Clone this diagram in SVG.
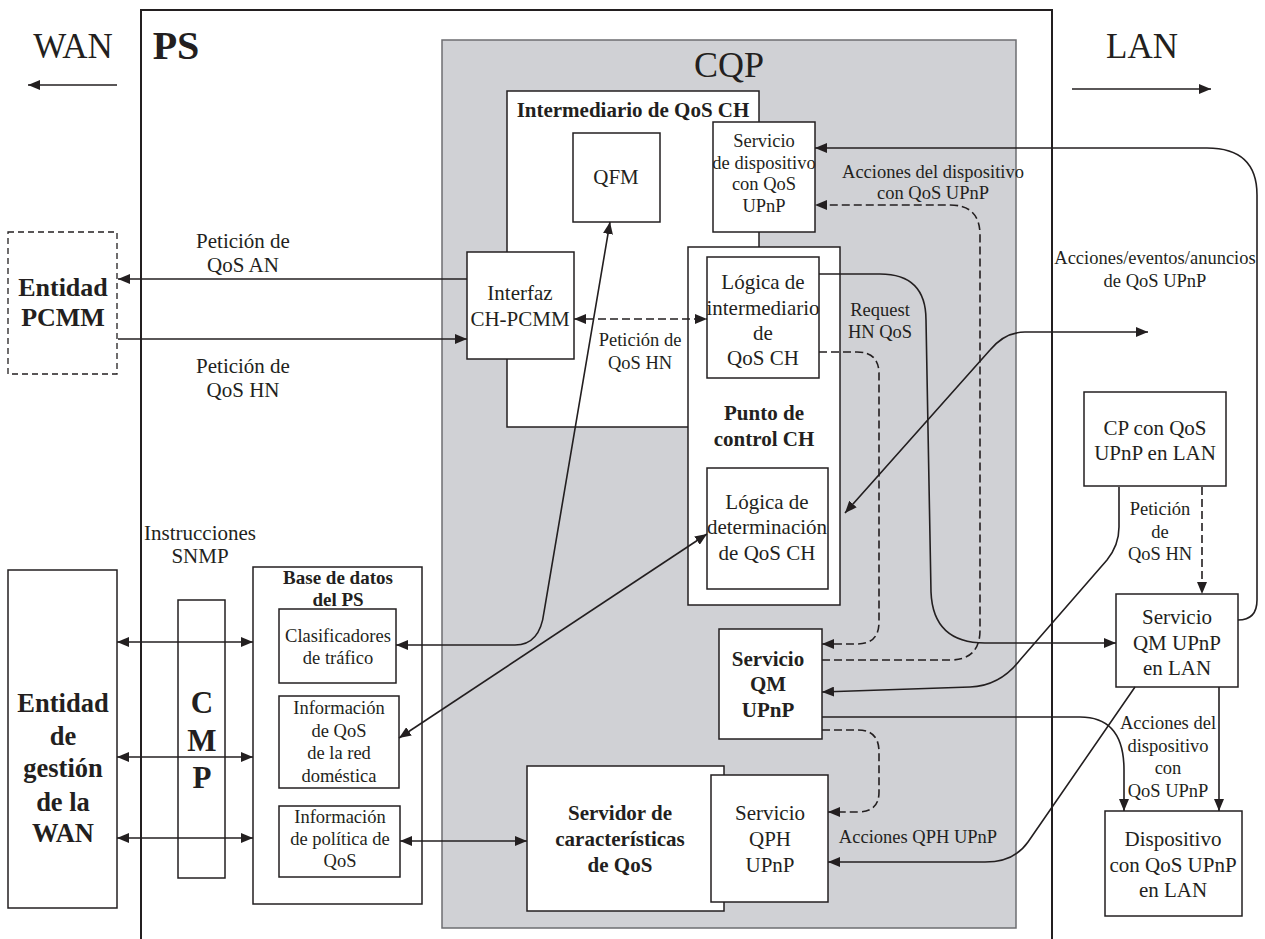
<svg xmlns="http://www.w3.org/2000/svg" width="1265" height="939" viewBox="0 0 1265 939">
  <style>
    .box { fill: #ffffff; stroke: #231f20; stroke-width: 1.5; }
    .t { font-family: "Liberation Serif", "Times New Roman", serif; fill: #231f20; text-anchor: middle; }
    .f21 { font-size: 21px; }
    .f18 { font-size: 18.5px; }
    .b { font-weight: bold; }
    .ln { fill: none; stroke: #231f20; stroke-width: 1.6; }
    .dash { stroke-dasharray: 8 4; }
    .end { marker-end: url(#ah); }
    .both { marker-start: url(#ah); marker-end: url(#ah); }
  </style>
  <defs>
    <marker id="ah" viewBox="0 0 12 10" refX="12" refY="5" markerWidth="12" markerHeight="10" markerUnits="userSpaceOnUse" orient="auto-start-reverse">
      <path d="M0,0 L12,5 L0,10 z" fill="#231f20"/>
    </marker>
  </defs>

  <rect width="1265" height="939" fill="#ffffff"/>

  <!-- PS frame (open at the bottom) -->
  <g id="ps">
    <path d="M141 939 L141 10 L1052 10 L1052 939" fill="none" stroke="#231f20" stroke-width="2"/>
    <text class="t b" x="176" y="59" font-size="40">PS</text>
  </g>

  <!-- WAN / LAN direction labels -->
  <g id="wan-label">
    <text class="t" x="73" y="58" font-size="35">WAN</text>
  </g>
  <g id="lan-label">
    <text class="t" x="1142" y="58" font-size="35">LAN</text>
  </g>

  <!-- CQP area -->
  <g id="cqp">
    <rect x="442" y="40" width="574" height="888" fill="#d0d1d5" stroke="#6d6e71" stroke-width="1.5"/>
    <text class="t" x="729" y="77" font-size="36">CQP</text>
  </g>

  <!-- Entidad PCMM -->
  <g id="pcmm">
    <rect x="8" y="232" width="109" height="142" fill="#ffffff" stroke="#231f20" stroke-width="1.3" stroke-dasharray="6 4"/>
    <text class="t b" x="63" y="296" font-size="26">Entidad</text>
    <text class="t b" x="63" y="326" font-size="26">PCMM</text>
  </g>

  <!-- Intermediario de QoS CH -->
  <g id="intermediario">
    <rect class="box" x="507" y="91" width="252" height="336"/>
    <text class="t f21 b" x="633" y="117">Intermediario de QoS CH</text>
  </g>

  <g id="qfm">
    <rect class="box" x="573" y="133" width="87" height="89"/>
    <text class="t f21" x="616" y="184">QFM</text>
  </g>

  <g id="servicio-dispositivo">
    <rect class="box" x="713" y="122" width="102" height="110"/>
    <text class="t f18" x="764" y="147">Servicio</text>
    <text class="t f18" x="764" y="169">de dispositivo</text>
    <text class="t f18" x="764" y="190">con QoS</text>
    <text class="t f18" x="764" y="212">UPnP</text>
  </g>

  <g id="interfaz">
    <rect class="box" x="467" y="252" width="107" height="107"/>
    <text class="t f21" x="520" y="300">Interfaz</text>
    <text class="t f21" x="520" y="326">CH-PCMM</text>
  </g>

  <!-- Punto de control CH -->
  <g id="punto-control">
    <rect class="box" x="688" y="247" width="152" height="358"/>
    <text class="t f21 b" x="764" y="420">Punto de</text>
    <text class="t f21 b" x="764" y="446">control CH</text>
  </g>

  <g id="logica-intermediario">
    <rect class="box" x="707" y="257" width="112" height="121"/>
    <text class="t f21" x="763" y="289">Lógica de</text>
    <text class="t f21" x="763" y="315">intermediario</text>
    <text class="t f21" x="763" y="340">de</text>
    <text class="t f21" x="763" y="365">QoS CH</text>
  </g>

  <g id="logica-determinacion">
    <rect class="box" x="707" y="468" width="121" height="121"/>
    <text class="t f21" x="767" y="509">Lógica de</text>
    <text class="t f21" x="767" y="534">determinación</text>
    <text class="t f21" x="767" y="560">de QoS CH</text>
  </g>

  <!-- Servicio QM UPnP -->
  <g id="servicio-qm">
    <rect class="box" x="719" y="629" width="103" height="110"/>
    <text class="t f21 b" x="768" y="666">Servicio</text>
    <text class="t f21 b" x="768" y="691">QM</text>
    <text class="t f21 b" x="768" y="717">UPnP</text>
  </g>

  <!-- Servidor de características de QoS with its QPH service -->
  <g id="servidor">
    <rect class="box" x="527" y="766" width="197" height="145"/>
    <text class="t f21 b" x="620" y="820">Servidor de</text>
    <text class="t f21 b" x="620" y="846">características</text>
    <text class="t f21 b" x="620" y="872">de QoS</text>
  </g>
  <g id="servicio-qph">
    <rect class="box" x="711" y="775" width="117" height="127"/>
    <text class="t f21" x="770" y="820">Servicio</text>
    <text class="t f21" x="770" y="846">QPH</text>
    <text class="t f21" x="770" y="872">UPnP</text>
  </g>

  <!-- Entidad de gestión de la WAN -->
  <g id="gestion-wan">
    <rect class="box" x="8" y="570" width="109" height="338"/>
    <text class="t b" x="63" y="712" font-size="26.5">Entidad</text>
    <text class="t b" x="63" y="745" font-size="26.5">de</text>
    <text class="t b" x="63" y="777" font-size="26.5">gestión</text>
    <text class="t b" x="63" y="811" font-size="26.5">de la</text>
    <text class="t b" x="63" y="842" font-size="26.5">WAN</text>
  </g>

  <g id="snmp">
    <text class="t f21" x="200" y="540">Instrucciones</text>
    <text class="t f21" x="200" y="563">SNMP</text>
  </g>

  <g id="cmp">
    <rect class="box" x="178" y="600" width="47" height="278"/>
    <text class="t b" x="202" y="713" font-size="31">C</text>
    <text class="t b" x="202" y="751" font-size="31">M</text>
    <text class="t b" x="202" y="788" font-size="31">P</text>
  </g>

  <!-- Base de datos del PS -->
  <g id="base-datos">
    <rect class="box" x="253" y="567" width="169" height="337"/>
    <text class="t b" x="338" y="584" font-size="19">Base de datos</text>
    <text class="t b" x="338" y="606" font-size="19">del PS</text>
  </g>
  <g id="clasificadores">
    <rect class="box" x="279" y="609" width="117" height="74"/>
    <text class="t f18" x="338" y="642">Clasificadores</text>
    <text class="t f18" x="338" y="664">de tráfico</text>
  </g>
  <g id="info-qos-red">
    <rect class="box" x="279" y="696" width="120" height="92"/>
    <text class="t f18" x="339" y="714">Información</text>
    <text class="t f18" x="339" y="737">de QoS</text>
    <text class="t f18" x="339" y="759">de la red</text>
    <text class="t f18" x="339" y="782">doméstica</text>
  </g>
  <g id="info-politica">
    <rect class="box" x="279" y="806" width="121" height="71"/>
    <text class="t f18" x="340" y="823">Información</text>
    <text class="t f18" x="340" y="845">de política de</text>
    <text class="t f18" x="340" y="867">QoS</text>
  </g>

  <!-- LAN side -->
  <g id="cp-lan">
    <rect class="box" x="1084" y="392" width="142" height="94"/>
    <text class="t f21" x="1155" y="435">CP con QoS</text>
    <text class="t f21" x="1155" y="460">UPnP en LAN</text>
  </g>
  <g id="servicio-qm-lan">
    <rect class="box" x="1116" y="594" width="122" height="93"/>
    <text class="t f21" x="1177" y="624">Servicio</text>
    <text class="t f21" x="1177" y="650">QM UPnP</text>
    <text class="t f21" x="1177" y="675">en LAN</text>
  </g>
  <g id="dispositivo-lan">
    <rect class="box" x="1105" y="811" width="137" height="105"/>
    <text class="t f21" x="1173" y="846">Dispositivo</text>
    <text class="t f21" x="1173" y="872">con QoS UPnP</text>
    <text class="t f21" x="1173" y="897">en LAN</text>
  </g>

  <!-- Connectors -->
  <g id="connectors">
    <path class="ln end" d="M117 85 L28 85"/>
    <path class="ln end" d="M1072 89 L1211 89"/>

    <path class="ln end" d="M467 279 L118 279"/>
    <path class="ln end" d="M118 339 L467 339"/>
    <path class="ln dash both" d="M574 319 L707 319"/>

    <path class="ln both" d="M396 645 L515 645 Q540 645 544 612 L610 222"/>
    <path class="ln both" d="M399 738 L707 534"/>
    <path class="ln both" d="M400 841 L527 841"/>

    <path class="ln both" d="M117 642 L253 642"/>
    <path class="ln both" d="M117 757 L253 757"/>
    <path class="ln both" d="M117 838 L253 838"/>

    <path class="ln dash end" d="M819 352 L857 352 Q879 352 879 374 L879 622 Q879 644 857 644 L822 644"/>
    <path class="ln dash end" d="M822 660 L950 660 Q980 660 980 630 L980 235 Q980 205 950 205 L815 205"/>
    <path class="ln end" d="M1119 487 L1119 527 Q1119 545 1107 560 L1020 660 Q1000 686 970 687 L822 692"/>
    <path class="ln end" d="M822 717 L1080 717 Q1124 717 1124 770 L1124 811"/>
    <path class="ln dash end" d="M822 730 L858 730 Q879 730 879 752 L879 792 Q879 812 858 812 L828 812"/>
    <path class="ln end" d="M1135 687 L1028 842 Q1014 862 985 862 L828 862"/>
    <path class="ln end" d="M819 274 L880 274 Q926 274 926 320 L931 592 Q933 643 985 643 L1116 643"/>
    <path class="ln both" d="M845 513 L990 350 Q1005 332 1025 332 L1148 332"/>
    <path class="ln end" d="M1238 620 Q1257 620 1257 600 L1257 195 Q1257 148 1207 148 L815 148"/>
    <path class="ln dash end" d="M1202 487 L1202 594"/>
    <path class="ln end" d="M1219 687 L1219 811"/>
  </g>

  <!-- Connector labels -->
  <g id="labels">
    <text class="t f21" x="243" y="248">Petición de</text>
    <text class="t f21" x="243" y="272">QoS AN</text>
    <text class="t f21" x="243" y="373">Petición de</text>
    <text class="t f21" x="243" y="397">QoS HN</text>
    <text class="t f18" x="640" y="346">Petición de</text>
    <text class="t f18" x="640" y="369">QoS HN</text>
    <text class="t f18" x="933" y="178">Acciones del dispositivo</text>
    <text class="t f18" x="933" y="199">con QoS UPnP</text>
    <text class="t f18" x="880" y="316">Request</text>
    <text class="t f18" x="880" y="338">HN QoS</text>
    <text class="t f18" x="1155" y="264">Acciones/eventos/anuncios</text>
    <text class="t f18" x="1155" y="287">de QoS UPnP</text>
    <text class="t f18" x="1160" y="515">Petición</text>
    <text class="t f18" x="1160" y="538">de</text>
    <text class="t f18" x="1160" y="560">QoS HN</text>
    <text class="t f18" x="1168" y="729">Acciones del</text>
    <text class="t f18" x="1168" y="752">dispositivo</text>
    <text class="t f18" x="1168" y="774">con</text>
    <text class="t f18" x="1168" y="797">QoS UPnP</text>
    <text class="t f18" x="918" y="843">Acciones QPH UPnP</text>
  </g>
</svg>
